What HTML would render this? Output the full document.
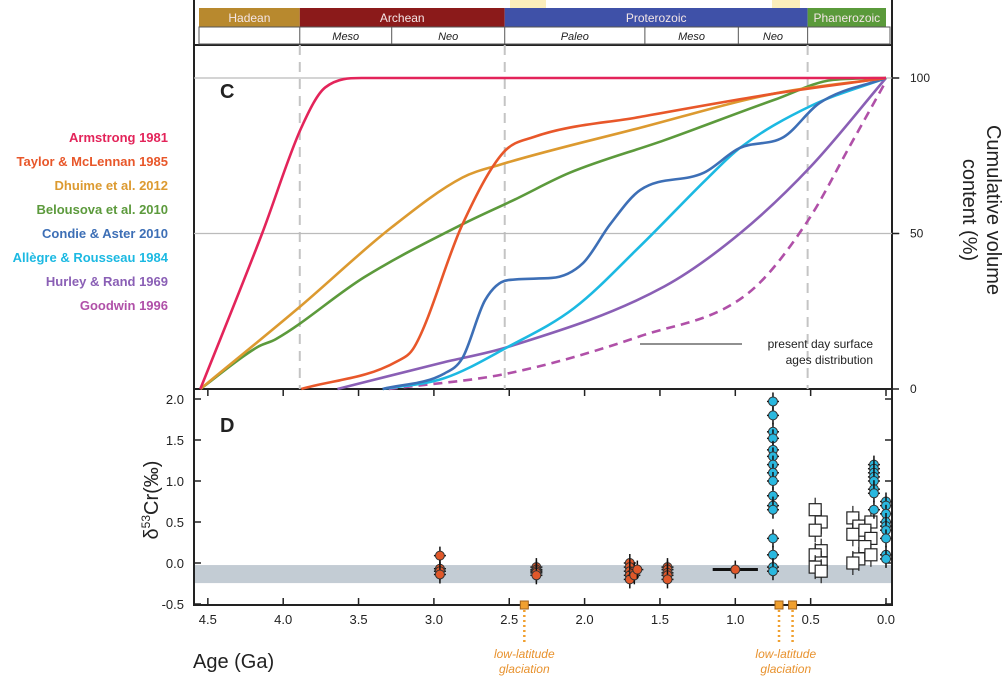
<!DOCTYPE html>
<html><head><meta charset="utf-8"><style>
body{margin:0;background:#fff;width:1003px;height:691px;overflow:hidden;font-family:"Liberation Sans",sans-serif}
svg{display:block}
</style></head><body>
<svg id="chart" width="1003" height="691" xmlns="http://www.w3.org/2000/svg" font-family="Liberation Sans, sans-serif"></svg>
<script>
// ---- data ----
const eonNames=["Hadean","Archean","Proterozoic","Phanerozoic"];
const eonBounds=[4.6,3.89,2.53,0.52,0];
const eraNames=["","Meso","Neo","Paleo","Meso","Neo",""];
const eraBounds=[4.6,3.89,3.28,2.53,1.6,0.98,0.52,0];
const xTicks=[4.5,4.0,3.5,3.0,2.5,2.0,1.5,1.0,0.5,0.0];
const xTickLabels=["4.5","4.0","3.5","3.0","2.5","2.0","1.5","1.0","0.5","0.0"];
const cTicks=[0,50,100];
const dTicks=[2.0,1.5,1.0,0.5,0.0,-0.5];
const dTickLabels=["2.0","1.5","1.0","0.5","0.0","-0.5"];
const seriesNames=["Armstrong 1981","Taylor & McLennan 1985","Dhuime et al. 2012","Belousova et al. 2010","Condie & Aster 2010","Allègre & Rousseau 1984","Hurley & Rand 1969","Goodwin 1996"];
const armstrong=[[4.55,0],[4.14,50],[3.88,84],[3.72,97],[3.48,100],[0,100]];
const taylor=[[3.88,0],[3.24,9],[3.13,13.5],[2.81,53],[2.54,76],[2.34,81],[1.63,87.5],[0.74,95],[0,100]];
const dhuime=[[4.55,0],[3.9,26],[3.28,52],[2.81,68],[2.57,72],[1.63,84],[0.74,95],[0,100]];
const belousova=[[4.55,0],[4.17,13.5],[4.05,16],[3.46,36],[2.81,53],[2.46,61],[2.1,69.5],[1.47,80],[0.74,93],[0.35,99.4],[0,100]];
const condie=[[3.34,0],[2.93,5],[2.81,10],[2.66,28.6],[2.51,35],[2.22,35.7],[2.01,40.5],[1.83,53],[1.63,64],[1.21,69.5],[0.97,77.5],[0.68,81],[0.44,92],[0,100]];
const allegre=[[3.34,0],[2.93,3.5],[2.51,13.5],[2.07,26],[1.63,46],[1.18,68],[0.97,77.5],[0.5,91],[0,100]];
const hurley=[[3.64,0],[2.95,8.4],[2.51,13.5],[1.47,33],[0.97,50],[0.5,71.5],[0,100]];
const goodwin=[[3.3,0],[2.51,5],[1.63,17],[0.91,31],[0.52,54],[0.23,79],[0,99]];
const orangeAges=[2.96,2.96,2.96,2.96,2.32,2.32,2.32,2.32,2.32,1.7,1.7,1.7,1.7,1.7,1.67,1.67,1.65,1.45,1.45,1.45,1.45,1.45,1.0];
const orangeVals=[0.09,-0.07,-0.1,-0.14,-0.05,-0.08,-0.1,-0.12,-0.15,0.0,-0.05,-0.1,-0.15,-0.2,-0.1,-0.15,-0.08,-0.05,-0.08,-0.12,-0.15,-0.2,-0.08];
const cyanAges=[0.75,0.75,0.75,0.75,0.75,0.75,0.75,0.75,0.75,0.75,0.75,0.75,0.75,0.75,0.75,0.75,0.08,0.08,0.08,0.08,0.08,0.08,0.08,0.08,0.0,0.0,0.0,0.0,0.0,0.0,0.0,0.0,0.0];
const cyanVals=[1.97,1.8,1.6,1.52,1.38,1.3,1.2,1.1,1.0,0.82,0.7,0.65,0.3,0.1,-0.05,-0.1,1.2,1.15,1.1,1.05,1.0,0.9,0.85,0.65,0.75,0.7,0.6,0.5,0.45,0.4,0.3,0.1,0.05];
const boxAges=[0.45,0.45,0.45,0.45,0.45,0.45,0.45,0.45,0.2,0.2,0.2,0.2,0.2,0.12,0.12,0.12,0.12,0.12];
const boxVals=[0.65,0.5,0.4,0.15,0.1,0.0,-0.05,-0.1,0.55,0.45,0.35,0.05,0.0,0.5,0.4,0.3,0.2,0.1];
const glaciationAges=[2.4,0.71,0.62];
// ---- scales ----
const X=a=>886-a*150.7;
const YC=p=>389-p*3.11;
const YD=v=>563-v*82;
const svg=document.getElementById('chart');
const NS="http://www.w3.org/2000/svg";
function mk(tag,attrs,parent){const e=document.createElementNS(NS,tag);for(const k in attrs)e.setAttribute(k,attrs[k]);(parent||svg).appendChild(e);return e;}
function txt(s,attrs,parent){const e=mk('text',attrs,parent);e.textContent=s;return e;}
mk('rect',{x:510,y:0,width:36,height:8,fill:'#fbeebb'});
mk('rect',{x:772,y:0,width:28,height:8,fill:'#fbeebb'});
const frame=mk('g',{});
mk('line',{x1:194,y1:0,x2:194,y2:606,stroke:'#222','stroke-width':2},frame);
mk('line',{x1:892,y1:0,x2:892,y2:606,stroke:'#222','stroke-width':2},frame);
mk('line',{x1:194,y1:45,x2:892,y2:45,stroke:'#222','stroke-width':2},frame);
mk('line',{x1:194,y1:389,x2:892,y2:389,stroke:'#222','stroke-width':2},frame);
mk('line',{x1:194,y1:605,x2:892,y2:605,stroke:'#222','stroke-width':2},frame);
const eonCols=['#b8892e','#8b1a1a','#3f51a8','#5a9a3a'];
const ts=mk('g',{});
eonNames.forEach((n,i)=>{
 const x1=Math.max(199,X(eonBounds[i])),x2=Math.min(890,X(eonBounds[i+1]));
 const r=mk('rect',{x:x1,y:8,width:x2-x1,height:19,fill:eonCols[i]},ts);
 
 
 txt(n,{x:(x1+x2)/2,y:22,'text-anchor':'middle','font-size':12,fill:'#f4e6e6'},ts);
});
mk('rect',{x:199,y:27,width:691,height:17,fill:'#fff',stroke:'#555','stroke-width':1},ts);
eraNames.forEach((n,i)=>{
 const x1=Math.max(199,X(eraBounds[i])),x2=Math.min(890,X(eraBounds[i+1]));
 if(i>0)mk('line',{x1:x1,y1:27,x2:x1,y2:44,stroke:'#555'},ts);
 if(n)txt(n,{x:(x1+x2)/2,y:40,'text-anchor':'middle','font-size':11,'font-style':'italic',fill:'#222'},ts);
});
[3.89,2.53,0.52].forEach(a=>{
 const l=mk('line',{x1:X(a),y1:45,x2:X(a),y2:389,stroke:'#c4c4c4','stroke-width':2,'stroke-dasharray':'10,7'});
 
});
cTicks.forEach(p=>{
 if(p>0)mk('line',{x1:194,y1:YC(p),x2:900,y2:YC(p),stroke:'#bbb','stroke-width':1.2});
 mk('line',{x1:892,y1:YC(p),x2:899,y2:YC(p),stroke:'#222','stroke-width':1.5});
 const t=txt(String(p),{x:910,y:YC(p)+4,'font-size':12,fill:'#222'});
 
});
const ct=txt('',{transform:'translate(975,210) rotate(90)','text-anchor':'middle','font-size':20,fill:'#222'});

mk('tspan',{x:0,dy:-12},ct).textContent='Cumulative volume';
mk('tspan',{x:0,dy:24},ct).textContent='content (%)';
const lc=txt('C',{x:220,y:98,'font-size':20,'font-weight':'bold',fill:'#222'});

// monotone cubic (Fritsch-Carlson) in pixel space
function smooth(pts){const P=pts.map(d=>[X(d[0]),YC(d[1])]);const n=P.length;
 const dx=[],m=[],t=new Array(n);
 for(let i=0;i<n-1;i++){dx[i]=P[i+1][0]-P[i][0];m[i]=(P[i+1][1]-P[i][1])/dx[i];}
 t[0]=m[0];t[n-1]=m[n-2];
 for(let i=1;i<n-1;i++){t[i]=(m[i-1]*m[i]<=0)?0:(m[i-1]+m[i])/2;}
 for(let i=0;i<n-1;i++){if(m[i]===0){t[i]=0;t[i+1]=0;continue;}
  const a=t[i]/m[i],b=t[i+1]/m[i],s=a*a+b*b;if(s>9){const k=3/Math.sqrt(s);t[i]=k*a*m[i];t[i+1]=k*b*m[i];}}
 let d='M'+P[0][0]+','+P[0][1];
 for(let i=0;i<n-1;i++){const h=dx[i]/3;
  d+=`C${P[i][0]+h},${P[i][1]+t[i]*h} ${P[i+1][0]-h},${P[i+1][1]-t[i+1]*h} ${P[i+1][0]},${P[i+1][1]}`;}
 return d;}
const allSeries=[armstrong,taylor,dhuime,belousova,condie,allegre,hurley,goodwin];
const cols=['#e3245a','#e8572a','#dc9a30','#5c9a3c','#3d6fb6','#1cb9e2','#8a5fb5','#b050a8'];
const ids=['armstrong','taylor-mclennan','dhuime','belousova','condie-aster','allegre-rousseau','hurley-rand','goodwin'];
const drawOrder=[7,6,5,4,3,2,1,0];
drawOrder.forEach(i=>{
 const p=mk('path',{d:smooth(allSeries[i]),fill:'none',stroke:cols[i],'stroke-width':2.6,'stroke-dasharray':i==7?'9,6':'none'});
 
});
seriesNames.forEach((n,i)=>{
 const t=txt(n,{x:168,y:142+i*24,'text-anchor':'end','font-size':13,'font-weight':'bold',fill:cols[i]});
 
});
mk('line',{x1:640,y1:344,x2:742,y2:344,stroke:'#222','stroke-width':1});
const an=txt('',{x:873,y:348,'font-size':12,fill:'#222','text-anchor':'end'});

mk('tspan',{x:873,dy:0},an).textContent='present day surface';
mk('tspan',{x:873,dy:16},an).textContent='ages distribution';
// panel D
const band=mk('rect',{x:195,y:YD(-0.025),width:696,height:YD(-0.245)-YD(-0.025),fill:'#c3ccd4'});

const ld=txt('D',{x:220,y:432,'font-size':20,'font-weight':'bold',fill:'#222'});

dTicks.forEach((v,i)=>{
 mk('line',{x1:194,y1:YD(v),x2:201,y2:YD(v),stroke:'#222','stroke-width':1.5});
 mk('line',{x1:885,y1:YD(v),x2:892,y2:YD(v),stroke:'#222','stroke-width':1.5});
 const t=txt(dTickLabels[i],{x:184,y:YD(v)+5,'text-anchor':'end','font-size':13,fill:'#222'});
 
});
xTicks.forEach((a,i)=>{
 mk('line',{x1:X(a),y1:598,x2:X(a),y2:605,stroke:'#222','stroke-width':1.5});
 mk('line',{x1:X(a),y1:389,x2:X(a),y2:396,stroke:'#222','stroke-width':1.5});
 const t=txt(xTickLabels[i],{x:X(a),y:624,'text-anchor':'middle','font-size':13,fill:'#222'});
 
});
const xt=txt('Age (Ga)',{x:193,y:668,'font-size':20,fill:'#222'});

const yt=txt('',{transform:'translate(158,500) rotate(-90)','text-anchor':'middle','font-size':20,fill:'#222'});

mk('tspan',{},yt).textContent='δ';
mk('tspan',{'font-size':12,dy:-8},yt).textContent='53';
mk('tspan',{dy:8},yt).textContent='Cr(‰)';
mk('line',{x1:X(1.15),y1:YD(-0.08),x2:X(0.85),y2:YD(-0.08),stroke:'#111','stroke-width':3});
boxAges.forEach((a,i)=>{
 const x=X(a)+(i%2?3:-3),y=YD(boxVals[i]);
 mk('line',{x1:x,y1:y-12,x2:x,y2:y+12,stroke:'#222','stroke-width':1.2});
 const r=mk('rect',{x:x-6,y:y-6,width:12,height:12,fill:'#fff',stroke:'#222','stroke-width':1.2});
 
});
function dot(a,v,c,nm){const x=X(a),y=YD(v);
 mk('line',{x1:x,y1:y-9,x2:x,y2:y+9,stroke:'#111','stroke-width':1.5});
 mk('line',{x1:x-6,y1:y,x2:x+6,y2:y,stroke:'#111','stroke-width':1.5});
 const c1=mk('circle',{cx:x,cy:y,r:4.5,fill:c,stroke:'#333','stroke-width':1});
 }
orangeAges.forEach((a,i)=>dot(a,orangeVals[i],'#e0582a','orange-point'));
cyanAges.forEach((a,i)=>dot(a,cyanVals[i],'#2ab8df','cyan-point'));
glaciationAges.forEach(a=>{
 mk('line',{x1:X(a),y1:610,x2:X(a),y2:643,stroke:'#f0a030','stroke-width':2.5,'stroke-dasharray':'2,3'});
 const s=mk('rect',{x:X(a)-4,y:601,width:8,height:8,fill:'#f0a030',stroke:'#a0601a','stroke-width':1});
 
});
[X(2.4),(X(0.71)+X(0.62))/2].forEach(px=>{
 const g=txt('',{x:px,y:658,'text-anchor':'middle','font-size':12,'font-style':'italic',fill:'#e8922e'});
 
 mk('tspan',{x:px,dy:0},g).textContent='low-latitude';
 mk('tspan',{x:px,dy:15},g).textContent='glaciation';
});
</script>
</body></html>
